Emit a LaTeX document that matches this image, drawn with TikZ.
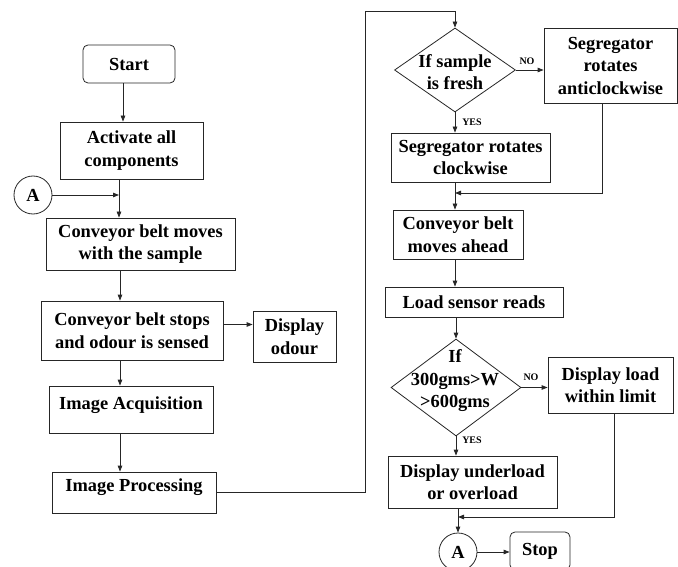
\documentclass[tikz,border=0pt]{standalone}
\usepackage{fontspec}
\setmainfont{Liberation Serif}
\usetikzlibrary{shapes.geometric,arrows.meta}
\begin{document}
\begin{tikzpicture}[x=1pt,y=-1pt,
  ln/.style={draw=black!85, line width=0.8pt},
  arr/.style={ln, -{Triangle[length=6pt,width=4.5pt]}},
  txt/.style={align=center, inner sep=0pt, font=\fontsize{18.4}{22.5}\selectfont\bfseries},
  box/.style={txt, rectangle, draw=black!85, line width=0.8pt},
  rbox/.style={box, rounded corners=5pt},
  dia/.style={diamond, draw=black!85, line width=0.8pt, inner sep=0pt},
  circ/.style={txt, circle, draw=black!85, line width=0.8pt, minimum size=38pt},
  lbl/.style={inner sep=0pt, font=\fontsize{10}{12}\selectfont\bfseries}]
\useasboundingbox (0,0) rectangle (678,567);

% ---------- left column ----------
\node[rbox, minimum width=92pt, minimum height=38pt] (start) at (129,64) {Start};
\node[box, minimum width=143pt, minimum height=57pt] (act) at (131.5,150.5) {Activate all\\components};
\node[circ] (A1) at (33,195) {A};
\node[box, minimum width=189pt, minimum height=52pt] (conv1) at (140.5,244) {Conveyor belt moves\\with the sample};
\node[box, minimum width=182pt, minimum height=59pt] (stops) at (132,330.5) {Conveyor belt stops\\and odour is sensed};
\node[box, minimum width=83pt, minimum height=51pt] (odour) at (294.5,336.5) {Display\\odour};
\node[box, minimum width=164pt, minimum height=47pt] (acq) at (131,409.5) {};
\node[txt] (acqt) at (131,405) {Image Acquisition};
\node[box, minimum width=164pt, minimum height=41pt] (proc) at (134,492.5) {};
\node[txt] (proct) at (134,487) {Image Processing};

\coordinate (lx0) at (123,0);
\coordinate (lx1) at (119,0);
\coordinate (lx) at (120,0);
\draw[arr] (start.south -| lx0) -- (act.north -| lx0);
\draw[arr] (act.south -| lx1) -- (conv1.north -| lx1);
\draw[arr] (A1.east) -- (A1.east -| lx1);
\draw[arr] (conv1.south -| lx) -- (stops.north -| lx);
\draw[arr] ([yshift=6pt]stops.east) -- ([yshift=6pt]stops.east -| odour.west);
\draw[arr] (stops.south -| lx) -- (acq.north -| lx);
\draw[arr] (acq.south -| lx) -- (proc.north -| lx);

% ---------- right column ----------
\node[dia, minimum width=121pt, minimum height=84pt] (d1) at (455,70) {};
\node[txt] (d1t) at (455,72) {If sample\\is fresh};
\node[box, minimum width=133pt, minimum height=75pt] (anti) at (610.5,65.5) {Segregator\\rotates\\anticlockwise};
\node[box, minimum width=159pt, minimum height=49pt] (cw) at (470.5,157.5) {Segregator rotates\\clockwise};
\node[box, minimum width=130pt, minimum height=49pt] (conv2) at (458,234.5) {Conveyor belt\\moves ahead};
\node[box, minimum width=178pt, minimum height=30pt] (load) at (474,302) {Load sensor reads};
\node[dia, minimum width=130pt, minimum height=97pt] (d2) at (456,387.5) {};
\node[txt] (d2t) at (455,381) {If\\300gms>W\\>600gms};
\node[box, minimum width=125pt, minimum height=56pt] (dll) at (610.5,385) {Display load\\within limit};
\node[box, minimum width=169pt, minimum height=52pt] (ul) at (472.5,482) {Display underload\\or overload};
\node[circ] (A2) at (458,552) {A};
\node[rbox, minimum width=60pt, minimum height=38pt] (stop) at (540,551) {Stop};

\node[lbl] (no1) at (527,61) {NO};
\node[lbl] (yes1) at (472,122) {YES};
\node[lbl] (no2) at (531,377) {NO};
\node[lbl] (yes2) at (472,440) {YES};

\coordinate (top) at (365,11);
\coordinate (rx) at (455,0);
\coordinate (m1) at (455,193);
\coordinate (m2) at (458,517);

\draw[arr] (proc.east) -| (top) -| (d1.north);
\draw[arr] (d1.east) -- (d1.east -| anti.west);
\draw[arr] (d1.south) -- (d1.south |- cw.north);
\draw[arr] ([xshift=-8.5pt]anti.south) |- (m1);
\draw[arr] (cw.south -| rx) -- (conv2.north -| rx);
\draw[arr] (conv2.south -| rx) -- (load.north -| rx);
\draw[arr] (load.south -| d2.north) -- (d2.north);
\draw[arr] (d2.east) -- (d2.east -| dll.west);
\draw[arr] (d2.south) -- (d2.south |- ul.north);
\draw[arr] ([xshift=3.5pt]dll.south) |- (m2);
\draw[arr] (ul.south -| A2.north) -- (A2.north);
\draw[arr] (A2.east) -- (A2.east -| stop.west);
\end{tikzpicture}
\end{document}
